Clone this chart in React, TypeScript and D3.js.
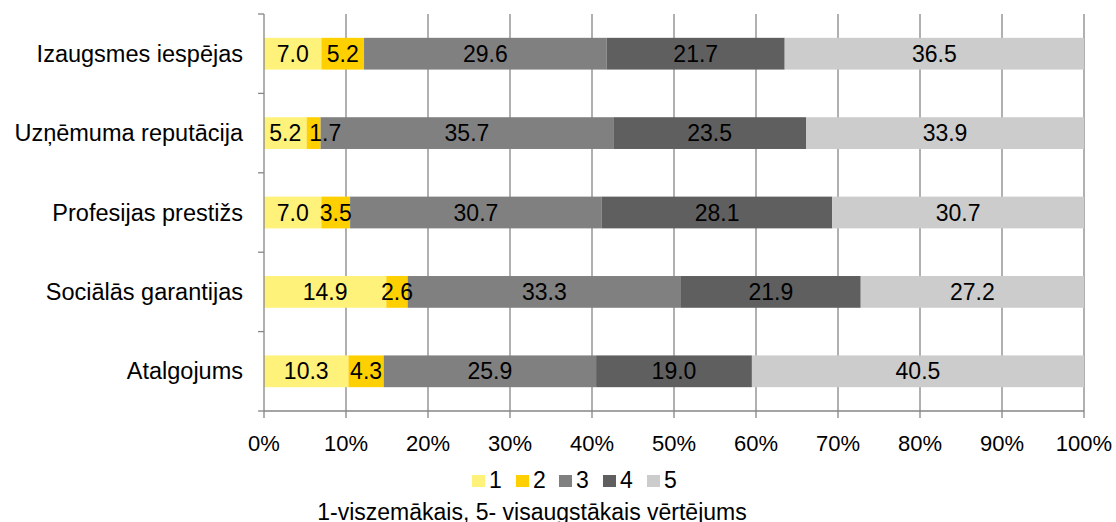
import React from "react";
import * as d3 from "d3";

const categories = [
  "Izaugsmes iespējas",
  "Uzņēmuma reputācija",
  "Profesijas prestižs",
  "Sociālās garantijas",
  "Atalgojums",
];
const seriesNames = ["1", "2", "3", "4", "5"];
const score1 = [7.0, 5.2, 7.0, 14.9, 10.3];
const score2 = [5.2, 1.7, 3.5, 2.6, 4.3];
const score3 = [29.6, 35.7, 30.7, 33.3, 25.9];
const score4 = [21.7, 23.5, 28.1, 21.9, 19.0];
const score5 = [36.5, 33.9, 30.7, 27.2, 40.5];
const xTicks = [0, 0.1, 0.2, 0.3, 0.4, 0.5, 0.6, 0.7, 0.8, 0.9, 1.0];
const caption = "1-viszemākais, 5- visaugstākais vērtējums";

const colors = ["#FFF27A", "#FFD000", "#808080", "#5F5F5F", "#CCCCCC"];

export default function App() {
  const W = 1116;
  const H = 522;
  const left = 264;
  const right = 1084;
  const top = 14;
  const bottom = 411;
  const font = "'Liberation Sans', Arial, sans-serif";
  const labelSize = 23;

  const series = [score1, score2, score3, score4, score5];
  const rows = categories.map((c, i) => {
    const o: Record<string, number | string> = { cat: c };
    seriesNames.forEach((s, j) => (o[s] = series[j][i]));
    return o;
  });
  const stacked = d3
    .stack<Record<string, number | string>>()
    .keys(seriesNames)
    .value((d, k) => d[k] as number)
    .offset(d3.stackOffsetExpand)(rows);

  const x = d3.scaleLinear().domain([0, 1]).range([left, right]);
  const y = d3.scaleBand().domain(categories).range([top, bottom]).paddingInner(0.6).paddingOuter(0.3);
  const yTickPos = d3.range(categories.length + 1).map((i) => top + ((bottom - top) * i) / categories.length);

  // Approximate label width (Arial-like digits 0.556em, dot 0.278em)
  const textWidth = (s: string) =>
    s.split("").reduce((w, ch) => w + (ch === "." ? 0.278 : 0.556), 0) * labelSize;

  // Center each value label in its segment; push a label right if it would
  // collide with the label of the previous segment in the same row.
  const labels: { key: string; x: number; y: number; text: string }[] = [];
  categories.forEach((c, i) => {
    let prevEnd = -Infinity;
    stacked.forEach((layer, j) => {
      const d = layer[i];
      const text = series[j][i].toFixed(1);
      const w = textWidth(text);
      let start = (x(d[0]) + x(d[1])) / 2 - w / 2;
      if (start < prevEnd + 8) start = prevEnd + 8;
      prevEnd = start + w;
      labels.push({ key: `${i}-${j}`, x: start + w / 2, y: y(c)! + y.bandwidth() / 2 + 8, text });
    });
  });

  const axisColor = "#868686";
  const legendX = [472, 516, 559, 603, 647];

  return (
    <svg width={W} height={H} style={{ position: "absolute", left: 0, top: 0 }} fontFamily={font}>
      <rect width={W} height={H} fill="#fff" />
      {/* vertical gridlines */}
      {xTicks.slice(1).map((t) => (
        <line key={"g" + t} x1={x(t)} x2={x(t)} y1={top} y2={bottom} stroke={axisColor} strokeWidth={1.3} />
      ))}
      {/* stacked segments */}
      {stacked.map((layer, j) => (
        <g key={"bar" + layer.key}>
          {layer.map((d, i) => (
            <rect
              key={i}
              x={x(d[0])}
              y={y(categories[i])!}
              width={x(d[1]) - x(d[0])}
              height={y.bandwidth()}
              fill={colors[j]}
            />
          ))}
        </g>
      ))}
      {/* value labels, drawn above every segment */}
      {labels.map((l) => (
        <text key={l.key} x={l.x} y={l.y} textAnchor="middle" fontSize={labelSize} fill="#000">
          {l.text}
        </text>
      ))}
      {/* axes */}
      <line x1={left} x2={left} y1={top} y2={bottom} stroke={axisColor} strokeWidth={1.3} />
      <line x1={left} x2={right} y1={bottom} y2={bottom} stroke={axisColor} strokeWidth={1.3} />
      {yTickPos.map((p, i) => (
        <line key={"yt" + i} x1={left - 6} x2={left} y1={p} y2={p} stroke={axisColor} strokeWidth={1.3} />
      ))}
      {xTicks.map((t) => (
        <line key={"xt" + t} x1={x(t)} x2={x(t)} y1={bottom} y2={bottom + 7} stroke={axisColor} strokeWidth={1.3} />
      ))}
      {xTicks.map((t) => (
        <text key={"xl" + t} x={x(t)} y={451} textAnchor="middle" fontSize={22}>
          {d3.format(".0%")(t)}
        </text>
      ))}
      {categories.map((c) => (
        <text key={c} x={243} y={y(c)! + y.bandwidth() / 2 + 8} textAnchor="end" fontSize={23.5}>
          {c}
        </text>
      ))}
      {/* legend */}
      {seriesNames.map((s, j) => {
        const lx = legendX[j];
        return (
          <g key={"lg" + s}>
            <rect x={lx} y={475} width={13} height={12} fill={colors[j]} />
            <text x={lx + 17} y={488} fontSize={23}>
              {s}
            </text>
          </g>
        );
      })}
      <text x={532} y={520} textAnchor="middle" fontSize={23}>
        {caption}
      </text>
    </svg>
  );
}
